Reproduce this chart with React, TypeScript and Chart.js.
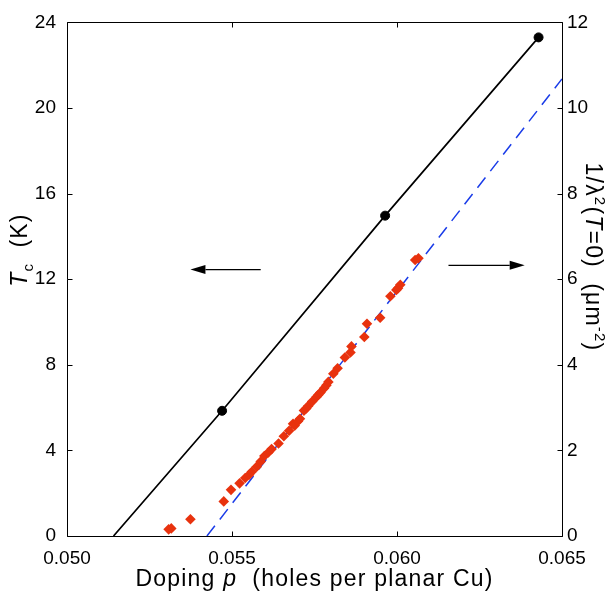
import React, { useEffect, useRef } from "react";
import { Chart, registerables } from "chart.js";

Chart.register(...registerables);

// ---- Data ----
const xTicks = [0.05, 0.055, 0.06, 0.065];
const leftTicks = [0, 4, 8, 12, 16, 20, 24];
const rightTicks = [0, 2, 4, 6, 8, 10, 12];

// Tc (K) vs doping: line through measured points (first point = extrapolated zero)
const tcDoping = [0.05141, 0.0547, 0.05964, 0.06429];
const tcValues = [0, 5.85, 14.97, 23.3];
const tcMeasured = [false, true, true, true];

// Dashed linear fit of 1/lambda^2
const fitDoping = [0.05424, 0.065];
const fitValues = [0, 10.68];

// 1/lambda^2(T=0) (um^-2) data points
const lambdaDoping = [
  0.05308, 0.05316, 0.05374, 0.05475, 0.05497, 0.05523, 0.0554, 0.05552, 0.0556,
  0.05575, 0.05587, 0.05598, 0.0561, 0.0562, 0.05641, 0.05657, 0.05673, 0.05685,
  0.0569, 0.057, 0.05706, 0.05718, 0.05725, 0.05731, 0.05743, 0.05756, 0.05762,
  0.05768, 0.05779, 0.05786, 0.05792, 0.05807, 0.0582, 0.05842, 0.05859, 0.05862,
  0.05901, 0.05909, 0.05949, 0.0598, 0.05998, 0.06003, 0.0601, 0.06055, 0.06065,
];
const lambdaValues = [
  0.155, 0.178, 0.392, 0.808, 1.078, 1.23, 1.355, 1.431, 1.5,
  1.62, 1.74, 1.87, 1.95, 2.03, 2.16, 2.33, 2.46, 2.62,
  2.58, 2.68, 2.74, 2.93, 2.98, 3.04, 3.14, 3.25, 3.3,
  3.35, 3.45, 3.52, 3.6, 3.79, 3.92, 4.17, 4.29, 4.43,
  4.65, 4.96, 5.1, 5.6, 5.75, 5.79, 5.87, 6.45, 6.49,
];

// Arrow annotations (data units: doping, Tc in K)
const leftArrow = { fromX: 0.05587, toX: 0.05374, y: 12.45 };
const rightArrow = { fromX: 0.06156, toX: 0.06387, y: 12.65 };

const FONT = "'Liberation Sans', Arial, Helvetica, sans-serif";

function drawArrow(ctx: CanvasRenderingContext2D, x1: number, y1: number, x2: number, y2: number) {
  const dir = Math.sign(x2 - x1);
  const headLen = 15;
  const headHalf = 4.5;
  ctx.save();
  ctx.strokeStyle = "#000";
  ctx.fillStyle = "#000";
  ctx.lineWidth = 1.2;
  ctx.beginPath();
  ctx.moveTo(x1, y1);
  ctx.lineTo(x2 - dir * headLen, y2);
  ctx.stroke();
  ctx.beginPath();
  ctx.moveTo(x2, y2);
  ctx.lineTo(x2 - dir * headLen, y2 - headHalf);
  ctx.lineTo(x2 - dir * headLen, y2 + headHalf);
  ctx.closePath();
  ctx.fill();
  ctx.restore();
}

type Part = [string, string, number];

function measureParts(ctx: CanvasRenderingContext2D, parts: Part[]) {
  let w = 0;
  parts.forEach(([t, f]) => {
    ctx.font = f;
    w += ctx.measureText(t).width;
  });
  return w;
}

function drawParts(ctx: CanvasRenderingContext2D, parts: Part[], x0: number, y0: number) {
  let x = x0;
  parts.forEach(([t, f, dy]) => {
    ctx.font = f;
    ctx.fillText(t, x, y0 + dy);
    x += ctx.measureText(t).width;
  });
}

const decorPlugin = {
  id: "decor",
  afterDraw(chart: any) {
    const ctx: CanvasRenderingContext2D = chart.ctx;
    const { left, right, top, bottom } = chart.chartArea;
    const xs = chart.scales.x;
    const ys = chart.scales.y;
    const ys2 = chart.scales.y2;
    const L = Math.round(left) + 0.5;
    const R = Math.round(right) + 0.5;
    const T = Math.round(top) + 0.5;
    const B = Math.round(bottom) + 0.5;
    const tl = 5;

    ctx.save();
    ctx.strokeStyle = "#000";
    ctx.lineWidth = 1;
    ctx.beginPath();
    ctx.rect(L, T, R - L, B - T);
    ctx.stroke();

    ctx.beginPath();
    xTicks.forEach((v) => {
      const px = Math.round(xs.getPixelForValue(v)) + 0.5;
      ctx.moveTo(px, B);
      ctx.lineTo(px, B - tl);
      ctx.moveTo(px, T);
      ctx.lineTo(px, T + tl);
    });
    leftTicks.forEach((v) => {
      const py = Math.round(ys.getPixelForValue(v)) + 0.5;
      ctx.moveTo(L, py);
      ctx.lineTo(L + tl, py);
    });
    rightTicks.forEach((v) => {
      const py = Math.round(ys2.getPixelForValue(v)) + 0.5;
      ctx.moveTo(R, py);
      ctx.lineTo(R - tl, py);
    });
    ctx.stroke();
    ctx.restore();

    // arrows
    drawArrow(
      ctx,
      xs.getPixelForValue(leftArrow.fromX), ys.getPixelForValue(leftArrow.y),
      xs.getPixelForValue(leftArrow.toX), ys.getPixelForValue(leftArrow.y)
    );
    drawArrow(
      ctx,
      xs.getPixelForValue(rightArrow.fromX), ys.getPixelForValue(rightArrow.y),
      xs.getPixelForValue(rightArrow.toX), ys.getPixelForValue(rightArrow.y)
    );

    // ---- axis titles ----
    ctx.save();
    ctx.fillStyle = "#000";
    ctx.textBaseline = "alphabetic";
    ctx.textAlign = "left";
    try { (ctx as any).letterSpacing = "1.2px"; } catch (e) {}

    const main = `23px ${FONT}`;
    const ital = `italic 23px ${FONT}`;
    const small = `15px ${FONT}`;

    // X title
    const xParts: Part[] = [
      ["Doping ", main, 0],
      ["p", ital, 0],
      ["  (holes per planar Cu)", main, 0],
    ];
    const xw = measureParts(ctx, xParts);
    drawParts(ctx, xParts, (left + right) / 2 - xw / 2, 586);

    // Left title: T_c (K), rotated -90
    const lParts: Part[] = [
      ["T", ital, 0],
      ["c", small, 6],
      ["  (K)", main, 0],
    ];
    const lw = measureParts(ctx, lParts);
    ctx.save();
    ctx.translate(27, 250);
    ctx.rotate(-Math.PI / 2);
    drawParts(ctx, lParts, -lw / 2, 0);
    ctx.restore();

    // Right title: 1/λ²(T=0)  (μm⁻²), rotated +90
    const rParts: Part[] = [
      ["1/λ", main, 0],
      ["2", small, -9],
      ["(", main, 0],
      ["T", ital, 0],
      ["=0)  (μm", main, 0],
      ["-2", small, -9],
      [")", main, 0],
    ];
    const rw = measureParts(ctx, rParts);
    ctx.save();
    ctx.translate(586, 257);
    ctx.rotate(Math.PI / 2);
    drawParts(ctx, rParts, -rw / 2, 0);
    ctx.restore();

    ctx.restore();
  },
};

export default function App() {
  const ref = useRef<HTMLCanvasElement>(null);

  useEffect(() => {
    const canvas = ref.current;
    if (!canvas) return;
    const tickFont = { family: FONT, size: 19 };
    const chart = new Chart(canvas, {
      type: "scatter",
      data: {
        datasets: [
          {
            type: "scatter",
            label: "1/lambda^2",
            data: lambdaDoping.map((x, i) => ({ x, y: lambdaValues[i] })),
            yAxisID: "y2",
            pointStyle: "rectRot",
            pointRadius: 5.3,
            backgroundColor: "#e8320e",
            borderColor: "#e8320e",
            borderWidth: 0,
            order: 0,
          } as any,
          {
            type: "line",
            label: "fit",
            data: fitDoping.map((x, i) => ({ x, y: fitValues[i] })),
            yAxisID: "y2",
            borderColor: "#1a3ce8",
            borderWidth: 1.5,
            borderDash: [13, 8],
            pointRadius: 0,
            fill: false,
            order: 1,
          } as any,
          {
            type: "line",
            label: "Tc",
            data: tcDoping.map((x, i) => ({ x, y: tcValues[i] })),
            yAxisID: "y",
            borderColor: "#000",
            borderWidth: 1.7,
            pointRadius: tcMeasured.map((m) => (m ? 4.5 : 0)),
            pointBorderWidth: 1,
            pointBackgroundColor: "#000",
            pointBorderColor: "#000",
            fill: false,
            order: 2,
          } as any,
        ],
      },
      options: {
        responsive: false,
        animation: false,
        layout: { padding: { top: 16, left: 0, right: 0, bottom: 0 } },
        plugins: {
          legend: { display: false },
          tooltip: { enabled: false },
        },
        scales: {
          x: {
            type: "linear",
            position: "bottom",
            min: 0.05,
            max: 0.065,
            grid: { display: false, drawTicks: false },
            border: { display: false },
            ticks: {
              color: "#000",
              font: tickFont,
              padding: 11,
              maxRotation: 0,
              callback: (v: any) => Number(v).toFixed(3),
            },
            afterBuildTicks: (s: any) => {
              s.ticks = xTicks.map((v) => ({ value: v }));
            },
            afterFit: (s: any) => {
              s.height = 57;
            },
          },
          y: {
            type: "linear",
            position: "left",
            min: 0,
            max: 24,
            grid: { display: false, drawTicks: false },
            border: { display: false },
            ticks: { color: "#000", font: tickFont, padding: 11 },
            afterBuildTicks: (s: any) => {
              s.ticks = leftTicks.map((v) => ({ value: v }));
            },
            afterFit: (s: any) => {
              s.width = 67;
            },
          },
          y2: {
            type: "linear",
            position: "right",
            min: 0,
            max: 12,
            grid: { display: false, drawTicks: false },
            border: { display: false },
            ticks: { color: "#000", font: tickFont, padding: 5 },
            afterBuildTicks: (s: any) => {
              s.ticks = rightTicks.map((v) => ({ value: v }));
            },
            afterFit: (s: any) => {
              s.width = 52;
            },
          },
        },
      } as any,
      plugins: [decorPlugin],
    });
    return () => chart.destroy();
  }, []);

  return (
    <div style={{ position: "absolute", left: 0, top: 0, width: 614, height: 593, background: "#fff" }}>
      <canvas ref={ref} width={614} height={593} style={{ width: 614, height: 593, display: "block" }} />
    </div>
  );
}
